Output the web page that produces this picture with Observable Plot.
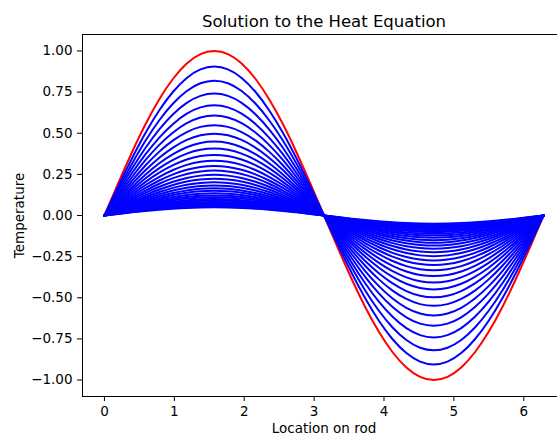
<!DOCTYPE html>
<html>
<head>
<meta charset="utf-8">
<script src="https://cdn.jsdelivr.net/npm/d3@7"></script>
<script src="https://cdn.jsdelivr.net/npm/@observablehq/plot@0.6"></script>
<style>
  html, body { margin: 0; padding: 0; background: #fff; overflow: hidden; }
  #chart svg { display: block; max-width: none !important; width: 570px !important; height: 434px !important; }
</style>
</head>
<body>
<div id="chart"></div>
<script>
// Location on rod (sample points)
const rodPosition = [0.000, 0.196, 0.393, 0.589, 0.785, 0.982, 1.178, 1.374, 1.571, 1.767, 1.963,
  2.160, 2.356, 2.553, 2.749, 2.945, 3.142, 3.338, 3.534, 3.731, 3.927, 4.123, 4.320, 4.516,
  4.712, 4.909, 5.105, 5.301, 5.498, 5.694, 5.890, 6.087, 6.283];
// Initial temperature profile (red curve)
const initialTemp = [0.000, 0.195, 0.383, 0.556, 0.707, 0.831, 0.924, 0.981, 1.000, 0.981, 0.924,
  0.831, 0.707, 0.556, 0.383, 0.195, 0.000, -0.195, -0.383, -0.556, -0.707, -0.831, -0.924, -0.981,
  -1.000, -0.981, -0.924, -0.831, -0.707, -0.556, -0.383, -0.195, 0.000];
// Peak amplitude of each later time step (blue curves)
const amplitudes = [0.905, 0.819, 0.741, 0.670, 0.607, 0.549, 0.497, 0.449, 0.407, 0.368,
  0.333, 0.301, 0.273, 0.247, 0.223, 0.202, 0.183, 0.165, 0.150, 0.135,
  0.122, 0.111, 0.100, 0.091, 0.082, 0.074, 0.067, 0.061, 0.055, 0.050];
const xTicks = [0, 1, 2, 3, 4, 5, 6];
const yTicks = [-1.00, -0.75, -0.50, -0.25, 0.00, 0.25, 0.50, 0.75, 1.00];

const red = rodPosition.map((x, i) => ({x, y: initialTemp[i]}));
const blue = amplitudes.flatMap((a, k) => rodPosition.map((x, i) => ({x, y: a * initialTemp[i], step: k})));

const font = "DejaVu Sans, sans-serif";
const chart = Plot.plot({
  width: 570,
  height: 434,
  marginLeft: 82,
  marginRight: 5,
  marginTop: 34,
  marginBottom: 38,
  style: {fontFamily: font, fontSize: "13.5px", color: "#000", background: "#fff"},
  x: {domain: [-0.314, 6.597]},
  y: {domain: [-1.1, 1.1]},
  marks: [
    Plot.line(red, {x: "x", y: "y", stroke: "red", strokeWidth: 2, curve: "natural"}),
    Plot.line(blue, {x: "x", y: "y", z: "step", stroke: "blue", strokeWidth: 2, curve: "natural"}),
    Plot.frame({stroke: "#000", strokeWidth: 1}),
    Plot.axisX({ticks: xTicks, tickSize: 5, tickPadding: 5, label: null, tickFormat: d3.format("d"), fontSize: 13.5}),
    Plot.axisY({ticks: yTicks, tickSize: 5, tickPadding: 5, label: null, tickFormat: d3.format(".2f"), fontSize: 13.5}),
    Plot.text(["Solution to the Heat Equation"], {frameAnchor: "top", dy: -8, lineAnchor: "bottom", fontSize: 16.5, fill: "#000"}),
    Plot.text(["Location on rod"], {frameAnchor: "bottom", dy: 36, lineAnchor: "bottom", fontSize: 13.5, fill: "#000"}),
    Plot.text(["Temperature"], {frameAnchor: "left", dx: -63, rotate: -90, textAnchor: "middle", lineAnchor: "middle", fontSize: 13.5, fill: "#000"})
  ]
});
document.getElementById("chart").appendChild(chart);
</script>
</body>
</html>
